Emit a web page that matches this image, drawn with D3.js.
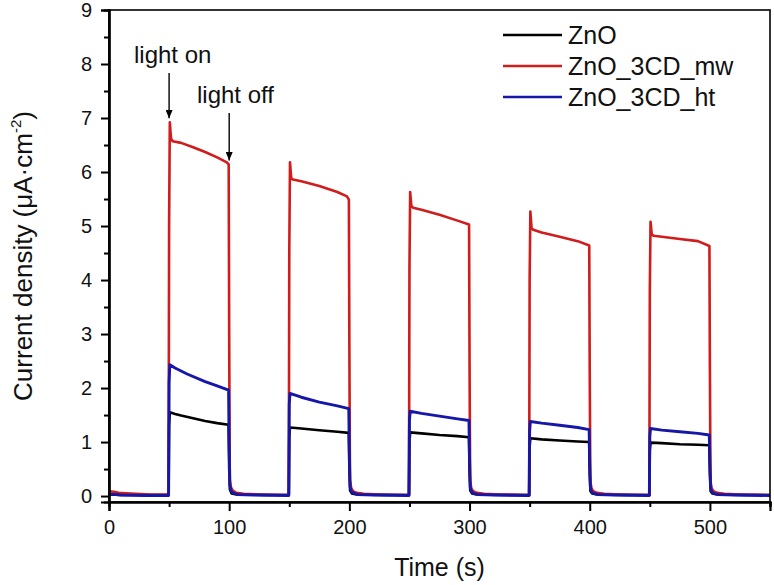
<!DOCTYPE html>
<html>
<head>
<meta charset="utf-8">
<script src="https://cdn.jsdelivr.net/npm/d3@7"></script>
<style>
  html, body { margin: 0; padding: 0; background: #fff; }
  svg { display: block; font-family: "Liberation Sans", Arial, sans-serif; }
</style>
</head>
<body>
<svg id="chart" width="774" height="585"></svg>
<script>
// ---------- data ----------
const seriesNames = ["ZnO", "ZnO_3CD_mw", "ZnO_3CD_ht"];
const xTicks = [0, 100, 200, 300, 400, 500];
const xMinorTicks = [50, 150, 250, 350, 450, 550];
const yTicks = [0, 1, 2, 3, 4, 5, 6, 7, 8, 9];
const yMinorTicks = [0.5, 1.5, 2.5, 3.5, 4.5, 5.5, 6.5, 7.5, 8.5];

// [time (s), current density (µA·cm^-2)]
const znoSeries = [
  [0,0.03],[10,0.02],[30,0.02],[49.6,0.02],[50,1.3],[50.6,1.55],[55,1.52],[60,1.49],[70,1.44],[80,1.39],[90,1.35],[99.5,1.32],
  [100,0.5],[100.6,0.12],[102,0.05],[106,0.03],[130,0.02],[149.6,0.02],
  [150,1.1],[150.6,1.27],[160,1.25],[175,1.22],[190,1.19],[199.5,1.17],
  [200,0.5],[200.6,0.1],[202,0.05],[206,0.03],[230,0.02],[249.6,0.02],
  [250,1.0],[250.6,1.18],[260,1.16],[275,1.13],[290,1.11],[299.5,1.09],
  [300,0.45],[300.6,0.1],[302,0.05],[306,0.03],[330,0.02],[349.6,0.02],
  [350,0.9],[350.6,1.07],[360,1.05],[375,1.03],[390,1.01],[399.5,1.0],
  [400,0.4],[400.6,0.09],[402,0.05],[406,0.03],[430,0.02],[449.6,0.02],
  [450,0.85],[450.6,0.99],[460,0.98],[475,0.96],[490,0.95],[499.5,0.94],
  [500,0.4],[500.6,0.09],[502,0.05],[506,0.03],[530,0.02],[550,0.02]
];
const mwSeries = [
  [0,0.09],[4,0.08],[8,0.06],[14,0.05],[22,0.04],[35,0.03],[49.6,0.03],
  [50,5.0],[50.6,6.92],[51.6,6.62],[53,6.57],[60,6.54],[70,6.46],[80,6.37],[90,6.27],[98,6.18],[99.6,6.14],
  [100,3.0],[100.5,0.3],[101.5,0.16],[103,0.1],[106,0.06],[112,0.04],[125,0.03],[149.6,0.02],
  [150,4.5],[150.6,6.18],[151.6,5.89],[153,5.86],[160,5.83],[175,5.74],[190,5.63],[198,5.55],[199.6,5.49],
  [200,2.8],[200.5,0.3],[201.5,0.15],[203,0.09],[206,0.06],[212,0.04],[225,0.03],[249.6,0.02],
  [250,4.2],[250.6,5.63],[251.6,5.37],[253,5.34],[260,5.3],[275,5.21],[290,5.1],[299.6,5.03],
  [300,2.5],[300.5,0.28],[301.5,0.14],[303,0.09],[306,0.06],[312,0.04],[325,0.03],[349.6,0.02],
  [350,4.0],[350.6,5.27],[351.6,4.96],[353,4.93],[360,4.88],[375,4.8],[390,4.72],[399.6,4.64],
  [400,2.3],[400.5,0.27],[401.5,0.14],[403,0.09],[406,0.06],[412,0.04],[425,0.03],[449.6,0.02],
  [450,3.8],[450.6,5.08],[451.6,4.85],[453,4.82],[460,4.8],[475,4.76],[490,4.72],[499.6,4.63],
  [500,2.3],[500.5,0.27],[501.5,0.14],[503,0.09],[506,0.06],[512,0.04],[525,0.03],[550,0.02]
];
const htSeries = [
  [0,0.04],[10,0.02],[30,0.01],[49.6,0.01],[50,2.1],[50.6,2.43],[55,2.37],[65,2.26],[80,2.12],[90,2.04],[99.5,1.96],
  [100,0.9],[100.6,0.2],[101.5,0.1],[103,0.06],[107,0.03],[120,0.02],[149.6,0.01],
  [150,1.7],[150.6,1.9],[160,1.83],[175,1.74],[190,1.67],[199.5,1.62],
  [200,0.8],[200.6,0.18],[201.5,0.09],[203,0.06],[207,0.03],[220,0.02],[249.6,0.01],
  [250,1.4],[250.6,1.57],[260,1.53],[275,1.48],[290,1.43],[299.5,1.4],
  [300,0.7],[300.6,0.16],[301.5,0.09],[303,0.05],[307,0.03],[320,0.02],[349.6,0.01],
  [350,1.2],[350.6,1.38],[360,1.35],[375,1.31],[390,1.27],[399.5,1.23],
  [400,0.6],[400.6,0.15],[401.5,0.08],[403,0.05],[407,0.03],[420,0.02],[449.6,0.01],
  [450,1.1],[450.6,1.25],[460,1.22],[475,1.19],[490,1.16],[499.5,1.13],
  [500,0.6],[500.6,0.15],[501.5,0.08],[503,0.05],[507,0.03],[520,0.02],[550,0.01]
];
const seriesColors = ["#000000", "#d01c1c", "#1616a8"];
const annotations = [
  { label: "light on", t: 50, v: 6.92 },
  { label: "light off", t: 100, v: 6.14 }
];

// ---------- layout ----------
const svg = d3.select("#chart");
const margin = { left: 109, right: 4, top: 10, bottom: 83 };
const W = 774, H = 585;
const x = d3.scaleLinear().domain([0, 550]).range([margin.left, W - margin.right]);
const y = d3.scaleLinear().domain([-0.11, 9]).range([H - margin.bottom, margin.top]);

// series lines (black, red, blue on top)
const line = d3.line().x(d => x(d[0])).y(d => y(d[1]));
const allSeries = [znoSeries, mwSeries, htSeries];
const clip = svg.append("clipPath").attr("id", "clip").append("rect")
  .attr("x", x(0)).attr("y", y(9)).attr("width", x(550) - x(0)).attr("height", y(-0.11) - y(9));
const g = svg.append("g").attr("clip-path", "url(#clip)");
allSeries.forEach((s, i) => {
  g.append("path").datum(s)
    .attr("fill", "none").attr("stroke", seriesColors[i])
    .attr("stroke-width", i === 2 ? 2.9 : 2.6).attr("stroke-linejoin", "round")
    .attr("d", line);
});

// frame
svg.append("rect")
  .attr("x", x(0)).attr("y", y(9)).attr("width", x(550) - x(0)).attr("height", y(-0.11) - y(9))
  .attr("fill", "none").attr("stroke", "#000").attr("stroke-width", 1.6);

// axes
const xAxis = svg.append("g").attr("transform", `translate(0,${y(-0.11)})`)
  .call(d3.axisBottom(x).tickValues(xTicks).tickSize(9).tickPadding(9).tickFormat(d3.format("d")));
const xMinor = svg.append("g").attr("transform", `translate(0,${y(-0.11)})`)
  .call(d3.axisBottom(x).tickValues(xMinorTicks).tickSize(5).tickFormat(""));
const yAxis = svg.append("g").attr("transform", `translate(${x(0)},0)`)
  .call(d3.axisLeft(y).tickValues(yTicks).tickSize(8).tickPadding(9).tickFormat(d3.format("d")));
const yMinor = svg.append("g").attr("transform", `translate(${x(0)},0)`)
  .call(d3.axisLeft(y).tickValues(yMinorTicks).tickSize(5).tickFormat(""));
[xAxis, xMinor, yAxis, yMinor].forEach(a => {
  a.select(".domain").attr("stroke-width", 2.2);
  a.selectAll(".tick line").attr("stroke-width", 2);
  a.selectAll("text").attr("font-size", 20).attr("fill", "#111")
    .attr("font-family", "Liberation Sans, Arial, sans-serif");
});

// axis titles
svg.append("text").attr("x", (x(0) + x(550)) / 2).attr("y", 576)
  .attr("text-anchor", "middle").attr("font-size", 25).attr("fill", "#111")
  .text("Time (s)");
const yt = svg.append("text")
  .attr("transform", `translate(32,${(y(9) + y(-0.11)) / 2}) rotate(-90)`)
  .attr("text-anchor", "middle").attr("font-size", 26).attr("fill", "#111");
yt.append("tspan").text("Current density (μA·cm");
yt.append("tspan").attr("font-size", 15).attr("dy", -11).text("-2");
yt.append("tspan").attr("dy", 11).text(")");

// legend
const legend = svg.append("g");
seriesNames.forEach((name, i) => {
  const ly = 35 + i * 31;
  legend.append("line").attr("x1", 503).attr("x2", 562).attr("y1", ly).attr("y2", ly)
    .attr("stroke", seriesColors[i]).attr("stroke-width", 2.4);
  legend.append("text").attr("x", 568).attr("y", ly + 9).attr("font-size", 25).attr("fill", "#111")
    .text(name);
});

// annotations (arrows)
const defs = svg.append("defs");
defs.append("marker").attr("id", "arrow").attr("viewBox", "0 0 10 12")
  .attr("refX", 5).attr("refY", 12).attr("markerWidth", 7).attr("markerHeight", 11)
  .attr("markerUnits", "userSpaceOnUse").attr("orient", "0")
  .append("path").attr("d", "M0,0 L5,12 L10,0 Z").attr("fill", "#000");
const annLayout = [
  { textX: 134, textY: 63, arrowTop: 73 },
  { textX: 197, textY: 103, arrowTop: 113 }
];
annotations.forEach((a, i) => {
  const L = annLayout[i];
  svg.append("text").attr("x", L.textX).attr("y", L.textY).attr("font-size", 24).attr("fill", "#111")
    .text(a.label);
  svg.append("line").attr("x1", x(a.t)).attr("x2", x(a.t))
    .attr("y1", L.arrowTop).attr("y2", y(a.v) - 4)
    .attr("stroke", "#000").attr("stroke-width", 1.4).attr("marker-end", "url(#arrow)");
});
</script>
</body>
</html>
